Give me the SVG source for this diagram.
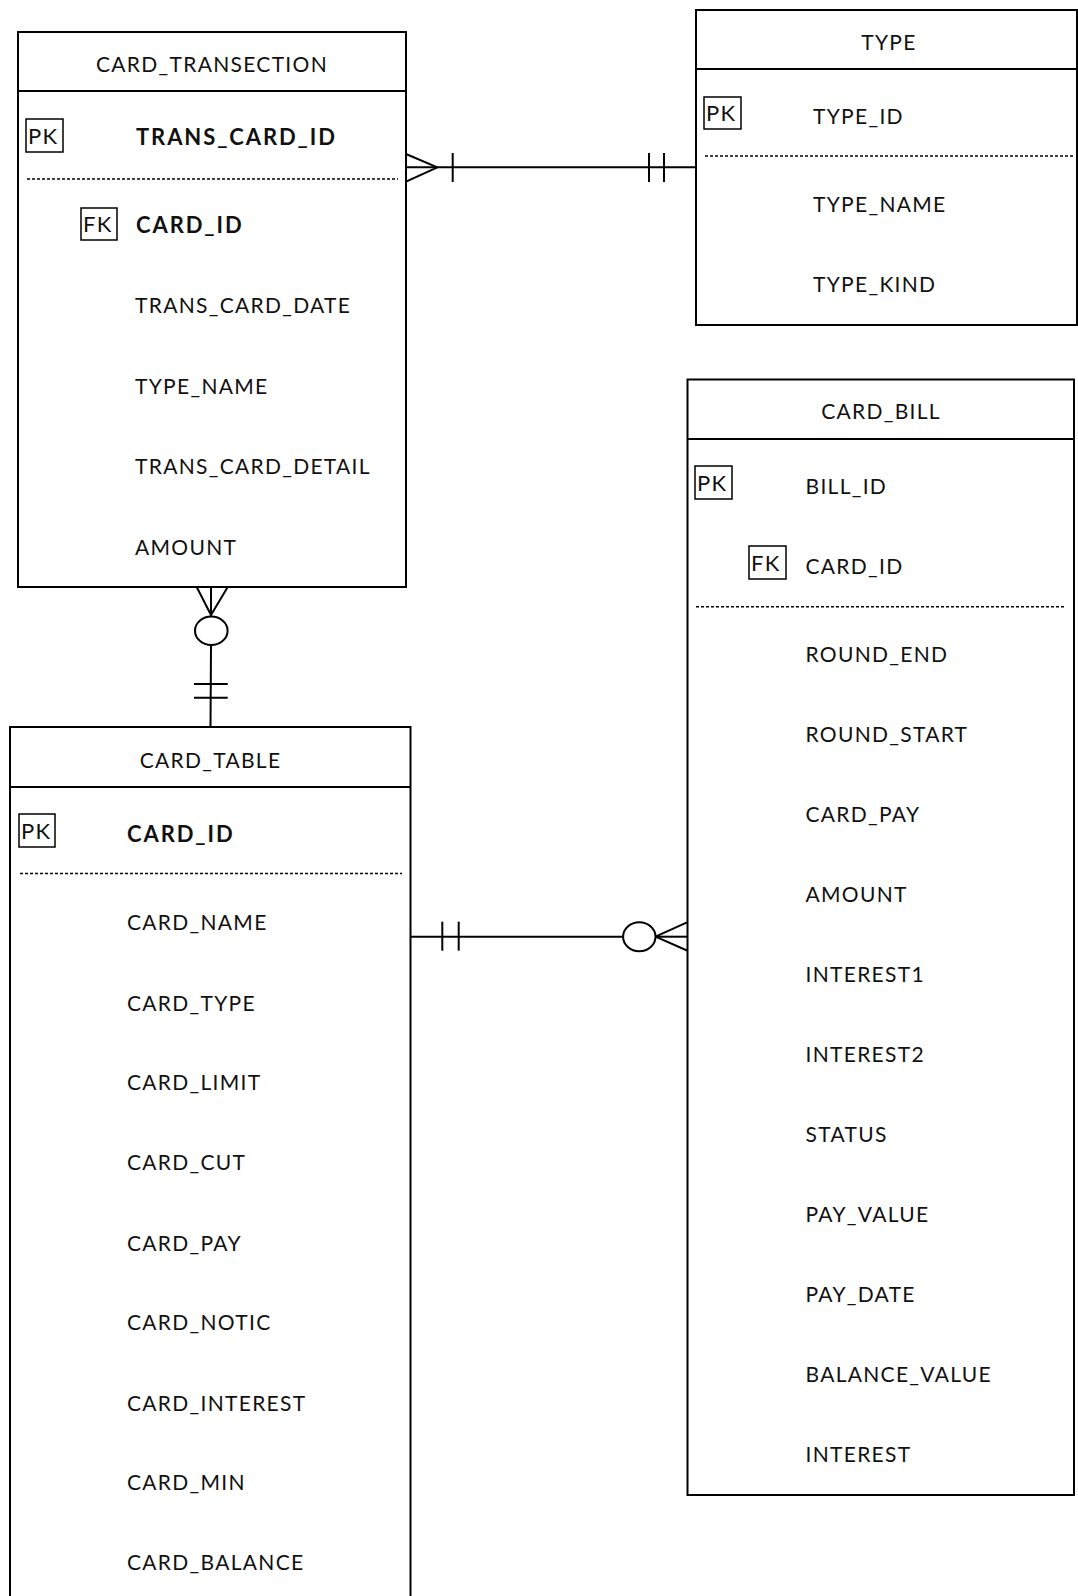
<svg xmlns="http://www.w3.org/2000/svg" width="1078" height="1596" viewBox="0 0 1078 1596">
<style>
.box{fill:#fff;stroke:#000;stroke-width:2}
.hl{stroke:#000;stroke-width:2}
.dash{stroke:#000;stroke-width:1.5;stroke-dasharray:3 2}
.key{fill:none;stroke:#000;stroke-width:1.5}
.ln{fill:none;stroke:#000;stroke-width:2}
text{font-family:Lato,"Noto Sans",sans-serif;font-size:21px;fill:#111;letter-spacing:1.3px}
.t{text-anchor:middle}
.b{font-weight:bold;font-size:22px;letter-spacing:1.9px}
.k{font-size:22px;letter-spacing:1.2px}
</style>
<rect width="1078" height="1596" fill="#fff"/>
<g id="connectors">
  <line class="ln" x1="406" y1="167.3" x2="696" y2="167.3"/>
  <line class="ln" x1="406" y1="154" x2="437.4" y2="167.3"/>
  <line class="ln" x1="406" y1="181.7" x2="437.4" y2="167.3"/>
  <line class="ln" x1="452.7" y1="153" x2="452.7" y2="182"/>
  <line class="ln" x1="649" y1="153" x2="649" y2="182"/>
  <line class="ln" x1="664" y1="153" x2="664" y2="182"/>
  <line class="ln" x1="211" y1="587" x2="211" y2="616"/>
  <line class="ln" x1="196.7" y1="587" x2="211" y2="615"/>
  <line class="ln" x1="227.7" y1="587" x2="211" y2="615"/>
  <ellipse class="ln" cx="211.3" cy="630.7" rx="16.3" ry="14.2"/>
  <line class="ln" x1="211" y1="645" x2="210.5" y2="727"/>
  <line class="ln" x1="194" y1="684" x2="227.7" y2="684"/>
  <line class="ln" x1="194" y1="697.7" x2="227.7" y2="697.7"/>
  <line class="ln" x1="411" y1="936.7" x2="623" y2="936.7"/>
  <line class="ln" x1="442.3" y1="921.7" x2="442.3" y2="950.7"/>
  <line class="ln" x1="458.7" y1="921.7" x2="458.7" y2="950.7"/>
  <ellipse class="ln" cx="639.3" cy="936.7" rx="16.2" ry="14.5"/>
  <line class="ln" x1="655.5" y1="936.7" x2="687" y2="936.7"/>
  <line class="ln" x1="655.5" y1="936.7" x2="687" y2="922.3"/>
  <line class="ln" x1="655.5" y1="936.7" x2="687" y2="950.5"/>
</g>
<g id="card_transection">
  <rect class="box" x="18" y="32" width="388" height="555"/>
  <line class="hl" x1="18" y1="91" x2="406" y2="91"/>
  <text class="t" x="212" y="72">CARD_TRANSECTION</text>
  <rect class="key" x="26" y="119" width="37" height="33"/>
  <text class="k" x="28" y="144">PK</text>
  <text class="b" x="136" y="145">TRANS_CARD_ID</text>
  <line class="dash" x1="27" y1="179" x2="398" y2="179"/>
  <rect class="key" x="81" y="208" width="36" height="32"/>
  <text class="k" x="83" y="232">FK</text>
  <text class="b" x="136" y="233">CARD_ID</text>
  <text x="135" y="313">TRANS_CARD_DATE</text>
  <text x="135" y="393.5">TYPE_NAME</text>
  <text x="135" y="474">TRANS_CARD_DETAIL</text>
  <text x="135" y="554.5">AMOUNT</text>
</g>
<g id="type">
  <rect class="box" x="696" y="10" width="381" height="315"/>
  <line class="hl" x1="696" y1="69" x2="1077" y2="69"/>
  <text class="t" x="889" y="49.5">TYPE</text>
  <rect class="key" x="704" y="97" width="37" height="32"/>
  <text class="k" x="706" y="121">PK</text>
  <text x="813" y="124">TYPE_ID</text>
  <line class="dash" x1="705" y1="156" x2="1075" y2="156"/>
  <text x="813" y="211.5">TYPE_NAME</text>
  <text x="813" y="291.5">TYPE_KIND</text>
</g>
<g id="card_table">
  <rect class="box" x="10" y="727" width="400.5" height="900"/>
  <line class="hl" x1="10" y1="787" x2="410.5" y2="787"/>
  <text class="t" x="210.5" y="768">CARD_TABLE</text>
  <rect class="key" x="19" y="814" width="36" height="33"/>
  <text class="k" x="21" y="838.5">PK</text>
  <text class="b" x="127" y="841.5">CARD_ID</text>
  <line class="dash" x1="20" y1="873.4" x2="402" y2="873.4"/>
  <text x="127" y="930">CARD_NAME</text>
  <text x="127" y="1010.5">CARD_TYPE</text>
  <text x="127" y="1090">CARD_LIMIT</text>
  <text x="127" y="1170">CARD_CUT</text>
  <text x="127" y="1250.5">CARD_PAY</text>
  <text x="127" y="1330">CARD_NOTIC</text>
  <text x="127" y="1410.5">CARD_INTEREST</text>
  <text x="127" y="1490">CARD_MIN</text>
  <text x="127" y="1570">CARD_BALANCE</text>
</g>
<g id="card_bill">
  <rect class="box" x="687.5" y="379.5" width="386.5" height="1115.5"/>
  <line class="hl" x1="687.5" y1="439" x2="1074" y2="439"/>
  <text class="t" x="881" y="419">CARD_BILL</text>
  <rect class="key" x="695" y="466" width="37" height="33"/>
  <text class="k" x="697" y="490.5">PK</text>
  <text x="805.5" y="493.5">BILL_ID</text>
  <rect class="key" x="749" y="546" width="37" height="33"/>
  <text class="k" x="751" y="570.5">FK</text>
  <text x="805.5" y="573.5">CARD_ID</text>
  <line class="dash" x1="696" y1="606.7" x2="1066" y2="606.7"/>
  <text x="805.5" y="662">ROUND_END</text>
  <text x="805.5" y="741.5">ROUND_START</text>
  <text x="805.5" y="822">CARD_PAY</text>
  <text x="805.5" y="902">AMOUNT</text>
  <text x="805.5" y="981.5">INTEREST1</text>
  <text x="805.5" y="1062">INTEREST2</text>
  <text x="805.5" y="1141.5">STATUS</text>
  <text x="805.5" y="1222">PAY_VALUE</text>
  <text x="805.5" y="1302">PAY_DATE</text>
  <text x="805.5" y="1381.5">BALANCE_VALUE</text>
  <text x="805.5" y="1462">INTEREST</text>
</g>
</svg>
